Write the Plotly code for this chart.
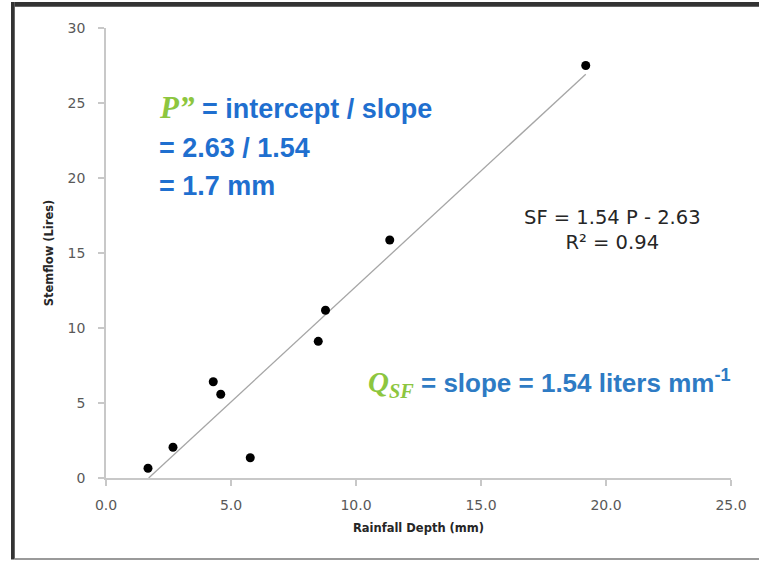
import plotly.graph_objects as go

# Data
rainfall_mm = [1.68, 2.68, 4.29, 4.59, 5.77, 8.49, 8.78, 11.35, 19.19]
stemflow_l = [0.65, 2.05, 6.42, 5.58, 1.35, 9.11, 11.18, 15.87, 27.5]
slope = 1.54
intercept = -2.63
r2 = 0.94

x_ticks = [0, 5, 10, 15, 20, 25]
y_ticks = [0, 5, 10, 15, 20, 25, 30]

x0 = -intercept / slope
x1 = max(rainfall_mm)
trend_x = [x0, x1]
trend_y = [slope * v + intercept for v in trend_x]

fig = go.Figure()
fig.add_trace(go.Scatter(x=trend_x, y=trend_y, mode="lines",
                         line=dict(color="#A6A6A6", width=1.3),
                         showlegend=False, hoverinfo="skip"))
fig.add_trace(go.Scatter(x=rainfall_mm, y=stemflow_l, mode="markers",
                         marker=dict(color="black", size=9),
                         showlegend=False))

tick_font = dict(family="DejaVu Sans, sans-serif", size=14, color="#595959")
title_font = dict(family="DejaVu Sans, sans-serif", size=11.5, color="#262626")

fig.update_xaxes(range=[0, 25], tickvals=x_ticks, tickformat=".1f",
                 showgrid=False, zeroline=False, showline=True,
                 linecolor="#C8C8C8", linewidth=1.5,
                 ticks="outside", ticklen=6, tickcolor="#C8C8C8", tickwidth=1.5,
                 tickfont=tick_font, ticklabelstandoff=7,
                 title=dict(text="<b>Rainfall Depth (mm)</b>", font=title_font, standoff=12))
fig.update_yaxes(range=[0, 30], tickvals=y_ticks,
                 showgrid=False, zeroline=False, showline=True,
                 linecolor="#C8C8C8", linewidth=1.5,
                 ticks="outside", ticklen=6, tickcolor="#C8C8C8", tickwidth=1.5,
                 tickfont=tick_font, ticklabelstandoff=10,
                 title=dict(text="<b>Stemflow (Lires)</b>", font=title_font, standoff=12))

green = "#8DC63F"
blue1 = "#1F6FCF"
blue2 = "#2E7BC4"
serif = "font-family:'Liberation Serif','DejaVu Serif',serif"
sans = "Liberation Sans, Arial, sans-serif"

fig.add_annotation(
    x=2.03, y=24.67, xref="x", yref="y", xanchor="left", yanchor="middle",
    text=(f"<span style=\"{serif};color:{green};font-size:31px\"><b><i>P”</i></b></span>"
          "<b> = intercept / slope</b>"),
    showarrow=False, align="left",
    font=dict(family=sans, size=27, color=blue1))
fig.add_annotation(
    x=2.03, y=22.0, xref="x", yref="y", xanchor="left", yanchor="middle",
    text="<b>= 2.63 / 1.54</b>", showarrow=False, align="left",
    font=dict(family=sans, size=27, color=blue1))
fig.add_annotation(
    x=2.03, y=19.47, xref="x", yref="y", xanchor="left", yanchor="middle",
    text="<b>= 1.7 mm</b>", showarrow=False, align="left",
    font=dict(family=sans, size=27, color=blue1))

fig.add_annotation(
    x=20.26, y=16.55, xref="x", yref="y", xanchor="center", yanchor="middle",
    text=f"SF = {slope:.2f} P - {abs(intercept):.2f}<br>R² = {r2:.2f}",
    showarrow=False, align="center",
    font=dict(family="DejaVu Sans, sans-serif", size=19.5, color="#262626"))

fig.add_annotation(
    x=10.4, y=6.33, xref="x", yref="y", xanchor="left", yanchor="middle",
    text=(f"<span style=\"{serif};color:{green};font-size:29px\"><b><i>Q<sub>SF</sub></i></b></span>"
          f"<b> = slope = {slope:.2f} liters mm<sup>-1</sup></b>"),
    showarrow=False, align="left",
    font=dict(family=sans, size=26, color=blue2))

# Picture frame (pixel-sized, anchored to the paper)
fig.add_shape(type="rect", xref="paper", yref="paper",
              x0=-0.146, x1=1.06, y0=1.047, y1=1.058,
              fillcolor="#333333", line=dict(width=0), layer="above")
fig.add_shape(type="rect", xref="paper", yref="paper",
              x0=-0.152, x1=-0.146, y0=-0.181, y1=1.058,
              fillcolor="#333333", line=dict(width=0), layer="above")
fig.add_shape(type="rect", xref="paper", yref="paper",
              x0=-0.146, x1=1.06, y0=-0.182, y1=-0.178,
              fillcolor="#9A9A9A", line=dict(width=0), layer="above")

fig.update_layout(width=759, height=561,
                  margin=dict(l=106, r=25, t=28, b=83),
                  paper_bgcolor="white", plot_bgcolor="white")

fig.write_html("out.html", config={"displayModeBar": False},
               post_script="document.body.style.margin='0';document.body.style.overflow='hidden';window.scrollTo(0,0);")
